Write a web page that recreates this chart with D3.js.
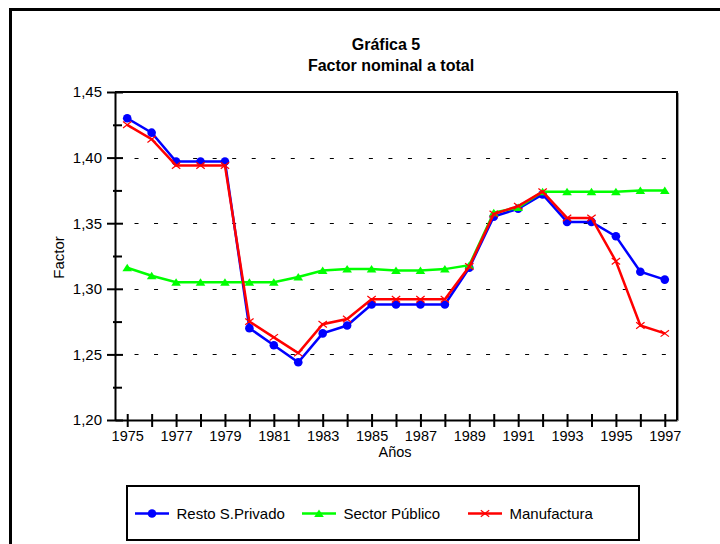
<!DOCTYPE html>
<html><head><meta charset="utf-8">
<script src="https://cdnjs.cloudflare.com/ajax/libs/d3/7.8.5/d3.min.js"></script>
<style>
body{margin:0;background:#fff;}
svg{display:block;font-family:"Liberation Sans",Arial,sans-serif;}
</style></head>
<body>
<svg id="c" width="720" height="544"></svg>
<script>
const years = [1975,1976,1977,1978,1979,1980,1981,1982,1983,1984,1985,1986,1987,1988,1989,1990,1991,1992,1993,1994,1995,1996,1997];
const restoPrivado = [1.430,1.419,1.397,1.397,1.397,1.270,1.257,1.244,1.266,1.272,1.288,1.288,1.288,1.288,1.316,1.355,1.361,1.372,1.351,1.351,1.340,1.313,1.307];
const sectorPublico = [1.316,1.310,1.305,1.305,1.305,1.305,1.305,1.309,1.314,1.315,1.315,1.314,1.314,1.315,1.318,1.358,1.362,1.374,1.374,1.374,1.374,1.375,1.375];
const manufactura = [1.425,1.414,1.394,1.394,1.394,1.275,1.263,1.251,1.273,1.277,1.292,1.292,1.292,1.292,1.317,1.357,1.363,1.374,1.354,1.354,1.321,1.272,1.266];
const yTicks = [1.20,1.25,1.30,1.35,1.40,1.45];
const yMinorTicks = [1.225,1.275,1.325,1.375,1.425];
const gridValues = [1.25,1.30,1.35,1.40];
const seriesNames = ["Resto S.Privado","Sector Público","Manufactura"];
const titleLines = ["Gráfica 5","Factor nominal a total"];
const xTitle = "Años", yTitle = "Factor";

const colors = ["#0000ff","#00ff00","#ff0000"];
const symbols = ["circle","triangle","cross"];
const series = [restoPrivado, sectorPublico, manufactura];

const svg = d3.select("#c");
const L = 115, R = 677, T = 92, B = 420;
const x = d3.scaleLinear().domain([1974.5,1997.5]).range([L,R]);
const y = d3.scaleLinear().domain([1.20,1.45]).range([B,T]);
const fmt = d => d3.format(".2f")(d).replace(".",",");

// outer frame
svg.append("rect").attr("x",10.5).attr("y",9.5).attr("width",800).attr("height",600)
  .attr("fill","none").attr("stroke","#000").attr("stroke-width",3);

// title
svg.append("text").attr("x",386).attr("y",49.5).attr("text-anchor","middle")
  .attr("font-size",16).attr("font-weight","bold").text(titleLines[0]);
svg.append("text").attr("x",391).attr("y",70.5).attr("text-anchor","middle")
  .attr("font-size",16).attr("font-weight","bold").text(titleLines[1]);

// gridlines
svg.append("g").selectAll("line").data(gridValues).join("line")
  .attr("x1",L).attr("x2",R).attr("y1",d=>Math.round(y(d))+0.5).attr("y2",d=>Math.round(y(d))+0.5)
  .attr("stroke","#000").attr("stroke-width",1).attr("stroke-dasharray","4,15.53");

// plot frame top/right
svg.append("line").attr("x1",L).attr("x2",R).attr("y1",T).attr("y2",T).attr("stroke","#000").attr("stroke-width",2);
svg.append("line").attr("x1",R).attr("x2",R).attr("y1",T-1).attr("y2",B).attr("stroke","#000").attr("stroke-width",2);
svg.append("line").attr("x1",R+1.5).attr("x2",R+1.5).attr("y1",T+1).attr("y2",B+1).attr("stroke","#999").attr("stroke-width",1);

// y axis
const gy = svg.append("g").attr("transform",`translate(${L},0)`)
  .call(d3.axisLeft(y).tickValues(yTicks).tickSize(8).tickSizeOuter(0).tickPadding(5).tickFormat(fmt));
gy.selectAll(".tick line").attr("x1",8).attr("stroke-width",2);
gy.select(".domain").attr("stroke-width",2);
gy.selectAll("text").attr("font-size",15).attr("font-family","Liberation Sans, Arial, sans-serif").attr("fill","#000");
const gym = svg.append("g").attr("transform",`translate(${L},0)`)
  .call(d3.axisLeft(y).tickValues(yMinorTicks).tickSize(2).tickSizeOuter(0).tickFormat(""));
gym.selectAll(".tick line").attr("x1",7).attr("stroke-width",2);
gym.select(".domain").remove();

// x axis
const gx = svg.append("g").attr("transform",`translate(0,${B})`)
  .call(d3.axisBottom(x).tickValues(years).tickSize(7).tickSizeOuter(0).tickPadding(4)
    .tickFormat(d => d % 2 === 1 ? String(d) : ""));
gx.selectAll(".tick line").attr("y1",-6).attr("stroke-width",2);
gx.select(".domain").attr("stroke-width",2);
gx.selectAll("text").attr("font-size",14.5).attr("font-family","Liberation Sans, Arial, sans-serif").attr("fill","#000");

// axis titles
svg.append("text").attr("x",395).attr("y",456.5).attr("text-anchor","middle").attr("font-size",14.5).text(xTitle);
svg.append("text").attr("transform","translate(64,257.5) rotate(-90)").attr("text-anchor","middle")
  .attr("font-size",15).text(yTitle);

function drawMarker(g, type, cx, cy, color){
  if(type==="circle"){
    g.append("circle").attr("cx",cx).attr("cy",cy).attr("r",4.3).attr("fill",color);
  } else if(type==="triangle"){
    g.append("path").attr("d",`M${cx-4.8},${cy+3.5}L${cx+4.8},${cy+3.5}L${cx},${cy-4}Z`).attr("fill",color);
  } else {
    g.append("path").attr("d",`M${cx-4.2},${cy-3.2}L${cx+4.2},${cy+3.2}M${cx-4.2},${cy+3.2}L${cx+4.2},${cy-3.2}`)
      .attr("stroke",color).attr("stroke-width",1.2).attr("fill","none");
  }
}

const line = d3.line().x((d,i)=>x(years[i])).y(d=>y(d));
series.forEach((s,k)=>{
  const g = svg.append("g");
  g.append("path").datum(s).attr("d",line).attr("fill","none").attr("stroke",colors[k]).attr("stroke-width",2.5);
  s.forEach((v,i)=>drawMarker(g, symbols[k], x(years[i]), y(v), colors[k]));
});

// legend
svg.append("rect").attr("x",127).attr("y",486).attr("width",512).attr("height",54)
  .attr("fill","#fff").attr("stroke","#000").attr("stroke-width",2);
const legX = [135,302,468];
seriesNames.forEach((n,k)=>{
  const g = svg.append("g");
  g.append("line").attr("x1",legX[k]).attr("x2",legX[k]+34).attr("y1",513.5).attr("y2",513.5)
    .attr("stroke",colors[k]).attr("stroke-width",2.5);
  drawMarker(g, symbols[k], legX[k]+17, 513.5, colors[k]);
  g.append("text").attr("x",legX[k]+41.5).attr("y",519).attr("font-size",15).text(n);
});
</script>
</body></html>
